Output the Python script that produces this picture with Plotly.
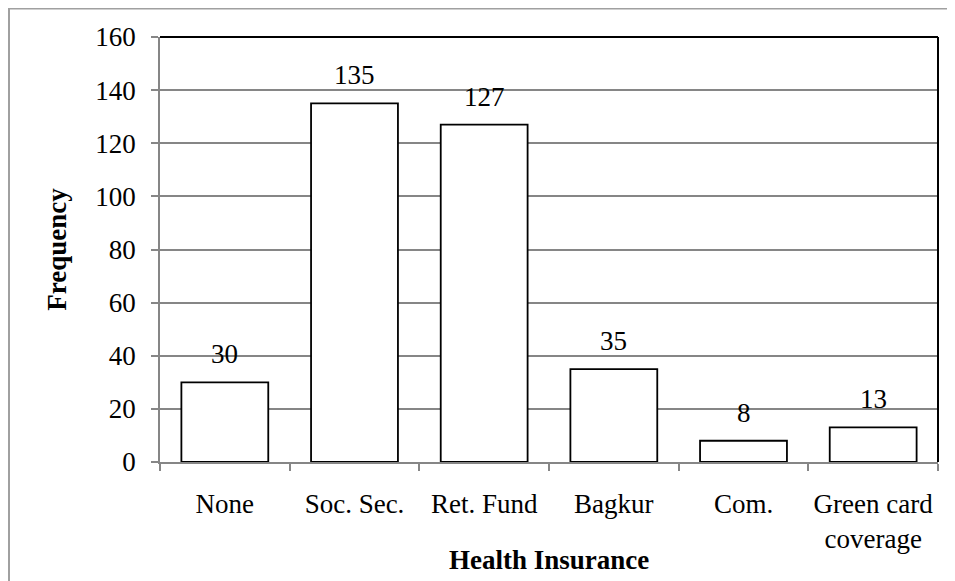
import plotly.graph_objects as go

categories = ["None", "Soc. Sec.", "Ret. Fund", "Bagkur", "Com.", "Green card<br>coverage"]
frequency = [30, 135, 127, 35, 8, 13]
y_ticks = [0, 20, 40, 60, 80, 100, 120, 140, 160]

FONT = "Liberation Serif, Times New Roman, serif"
FS = 27
W, H = 947, 573
ML, MR, MT, MB = 152, 17, 29, 119
PW, PH = W - ML - MR, H - MT - MB

fig = go.Figure()
fig.add_trace(go.Bar(
    x=categories, y=frequency,
    marker=dict(color="white", line=dict(color="black", width=1.8)),
    width=0.67,
    hoverinfo="x+y",
))

for c, v in zip(categories, frequency):
    fig.add_annotation(x=c, y=v, text=str(v), showarrow=False,
                       yanchor="middle", yshift=28,
                       font=dict(family=FONT, size=FS, color="black"))

# x-axis title placed close under the tick labels, as in the reference
fig.add_annotation(xref="paper", yref="paper", x=0.5, y=0, text="<b>Health Insurance</b>",
                   showarrow=False, yanchor="middle", yshift=-98,
                   font=dict(family=FONT, size=FS, color="black"))

# black top and right border of plot area
fig.add_shape(type="line", xref="paper", yref="paper", x0=0, x1=1, y0=1, y1=1,
              line=dict(color="black", width=2))
fig.add_shape(type="line", xref="paper", yref="paper", x0=1, x1=1, y0=0, y1=1,
              line=dict(color="black", width=2))
# outer chart frame (gray), top and left visible
fig.add_shape(type="rect", xref="paper", yref="paper",
              x0=(1 - ML) / PW, x1=(W + 20 - ML) / PW,
              y0=-(H + 20 - MT - PH) / PH, y1=(PH + MT - 0.5) / PH,
              line=dict(color="#a0a0a0", width=2), fillcolor="rgba(0,0,0,0)", layer="below")

fig.update_layout(
    width=W, height=H,
    margin=dict(l=ML, r=MR, t=MT, b=MB, autoexpand=False),
    paper_bgcolor="white", plot_bgcolor="white",
    font=dict(family=FONT, size=FS, color="black"),
    showlegend=False,
    bargap=0.33,
    xaxis=dict(
        type="category",
        showline=True, linecolor="#868686", linewidth=1.5,
        ticks="outside", tickson="boundaries", ticklen=7, tickcolor="#868686", tickwidth=1.5,
        showgrid=False, ticklabelstandoff=17,
        tickfont=dict(family=FONT, size=FS),
        automargin=False,
    ),
    yaxis=dict(
        range=[0, 160], tickvals=y_ticks, ticktext=[str(t) for t in y_ticks],
        showline=True, linecolor="#868686", linewidth=1.5,
        ticks="outside", ticklen=7, tickcolor="#868686", tickwidth=1.5,
        showgrid=True, gridcolor="#868686", gridwidth=1.5,
        zeroline=False, ticklabelstandoff=10,
        title=dict(text="<b>Frequency</b>", standoff=21,
                   font=dict(family=FONT, size=FS)),
        tickfont=dict(family=FONT, size=FS),
        automargin=False,
    ),
)

fig.write_html("out.html")
